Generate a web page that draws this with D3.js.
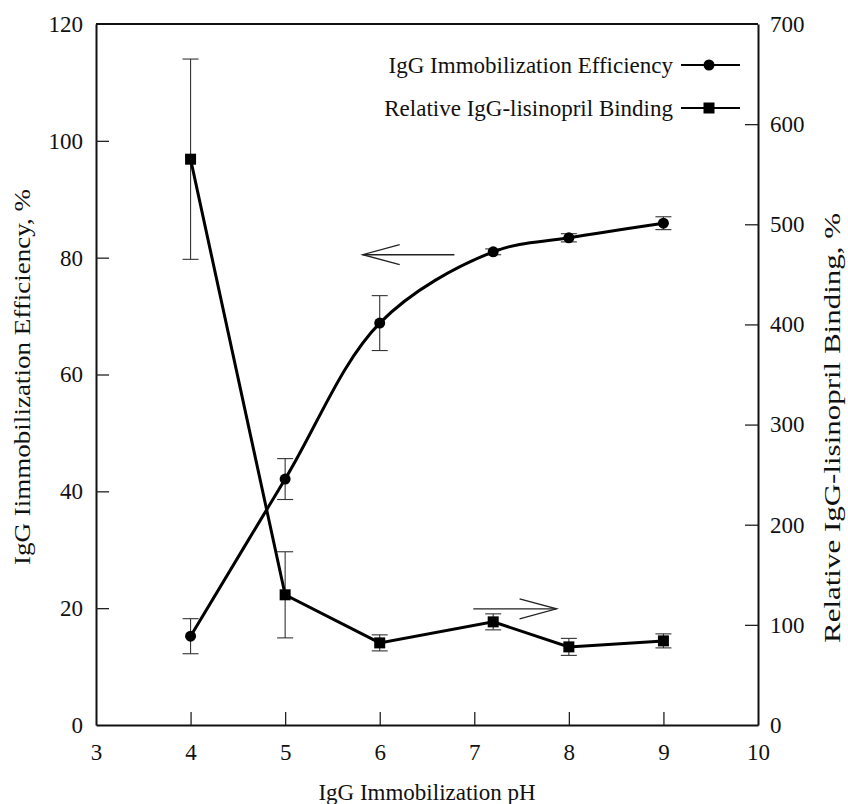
<!DOCTYPE html>
<html>
<head>
<meta charset="utf-8">
<script src="https://cdn.jsdelivr.net/npm/d3@7"></script>
<style>
  body { margin: 0; background: #fff; }
  svg text { font-family: "Liberation Serif", "Times New Roman", serif; fill: #111; }
</style>
</head>
<body>
<svg id="chart" width="848" height="804"></svg>
<script>
// pH values
const ph = [4, 5, 6, 7.2, 8, 9];
// IgG immobilization efficiency (%), left axis
const efficiency = [15.2, 42.1, 68.8, 81.0, 83.4, 85.9];
const efficiencyErr = [3.0, 3.5, 4.7, 0.5, 0.7, 1.1];
// relative IgG-lisinopril binding (%), right axis
const binding = [565, 130, 82, 103, 78, 84];
const bindingErr = [100, 43, 8, 8, 8.5, 7];

const xTicks = [3, 4, 5, 6, 7, 8, 9, 10];
const leftTicks = [0, 20, 40, 60, 80, 100, 120];
const rightTicks = [0, 100, 200, 300, 400, 500, 600, 700];

// annotation arrows, in data coordinates
const leftArrow = { from: [6.79, 80.5], to: [5.82, 80.5] };  // points to left axis
const rightArrow = { from: [6.99, 116], to: [7.87, 116] };   // points to right axis

const svg = d3.select('#chart');
const margin = { top: 24, right: 90, bottom: 79, left: 96 };
const width = 848 - margin.left - margin.right;
const height = 804 - margin.top - margin.bottom;

const g = svg.append('g').attr('transform', `translate(${margin.left},${margin.top})`);

const x = d3.scaleLinear().domain([3, 10]).range([0, width]);
const yL = d3.scaleLinear().domain([0, 120]).range([height, 0]);
const yR = d3.scaleLinear().domain([0, 700]).range([height, 0]);

// axes, ticks pointing inward
const xAxis = g.append('g').attr('transform', `translate(0,${height})`)
  .call(d3.axisBottom(x).tickValues(xTicks).tickFormat(d3.format('d'))
    .tickSizeInner(-13).tickSizeOuter(0).tickPadding(19));
const lAxis = g.append('g')
  .call(d3.axisLeft(yL).tickValues(leftTicks).tickSizeInner(-13).tickSizeOuter(0).tickPadding(13));
const rAxis = g.append('g').attr('transform', `translate(${width},0)`)
  .call(d3.axisRight(yR).tickValues(rightTicks).tickSizeInner(-13).tickSizeOuter(0).tickPadding(12));

[xAxis, lAxis, rAxis].forEach(a => {
  a.attr('font-family', null);
  a.select('.domain').attr('stroke', '#111').attr('stroke-width', 2);
  a.selectAll('.tick line').attr('stroke', '#222').attr('stroke-width', 1.3);
  a.selectAll('.tick text').style('font-size', '23px').attr('fill', '#111');
});
// no tick marks on the frame corners
xAxis.selectAll('.tick').filter(d => d === 3 || d === 10).select('line').remove();
lAxis.selectAll('.tick').filter(d => d === 0 || d === 120).select('line').remove();
rAxis.selectAll('.tick').filter(d => d === 0 || d === 700).select('line').remove();

// top frame line
g.append('line').attr('x1', 0).attr('x2', width).attr('y1', 0).attr('y2', 0)
  .attr('stroke', '#111').attr('stroke-width', 2);

// error bars
function errorBars(ys, errs, yScale) {
  const eb = g.append('g')
    .selectAll('g').data(ph.map((p, i) => ({ p, v: ys[i], e: errs[i] })))
    .enter().append('g').attr('stroke', '#333').attr('stroke-width', 1.1);
  eb.append('line')
    .attr('x1', d => x(d.p)).attr('x2', d => x(d.p))
    .attr('y1', d => yScale(d.v + d.e)).attr('y2', d => yScale(d.v - d.e));
  [1, -1].forEach(s => {
    eb.append('line')
      .attr('x1', d => x(d.p) - 8).attr('x2', d => x(d.p) + 8)
      .attr('y1', d => yScale(d.v + s * d.e)).attr('y2', d => yScale(d.v + s * d.e));
  });
}
errorBars(efficiency, efficiencyErr, yL);
errorBars(binding, bindingErr, yR);

// lines
const effLine = d3.line().x((d, i) => x(ph[i])).y(d => yL(d)).curve(d3.curveCatmullRom.alpha(0.5));
const bindLine = d3.line().x((d, i) => x(ph[i])).y(d => yR(d));

g.append('path').datum(efficiency).attr('d', effLine)
  .attr('fill', 'none').attr('stroke', '#000').attr('stroke-width', 3);
g.append('path').datum(binding).attr('d', bindLine)
  .attr('fill', 'none').attr('stroke', '#000').attr('stroke-width', 3);

// markers
g.append('g').selectAll('circle').data(efficiency).enter().append('circle')
  .attr('cx', (d, i) => x(ph[i])).attr('cy', d => yL(d)).attr('r', 5.5).attr('fill', '#000');
g.append('g').selectAll('rect').data(binding).enter().append('rect')
  .attr('x', (d, i) => x(ph[i]) - 5.5).attr('y', d => yR(d) - 5.5)
  .attr('width', 11).attr('height', 11).attr('fill', '#000');

// arrows
function arrow(a, yScale) {
  const x1 = x(a.from[0]), y1 = yScale(a.from[1]);
  const x2 = x(a.to[0]), y2 = yScale(a.to[1]);
  const dir = x2 > x1 ? -1 : 1;
  const grp = g.append('g').attr('stroke', '#222').attr('stroke-width', 1.3).attr('fill', 'none');
  grp.append('line').attr('x1', x1).attr('y1', y1).attr('x2', x2).attr('y2', y2);
  grp.append('path').attr('d', `M${x2 + dir * 37},${y2 - 10}L${x2},${y2}L${x2 + dir * 37},${y2 + 10}`);
}
arrow(leftArrow, yL);
arrow(rightArrow, yR);

// legend
const legend = [
  { label: 'IgG Immobilization Efficiency', shape: 'circle', y: 65 },
  { label: 'Relative IgG-lisinopril Binding', shape: 'rect', y: 108 }
];
legend.forEach(l => {
  svg.append('text').attr('x', 673).attr('y', l.y + 8).attr('text-anchor', 'end')
    .style('font-size', '23px').text(l.label);
  svg.append('line').attr('x1', 681).attr('x2', 740).attr('y1', l.y).attr('y2', l.y)
    .attr('stroke', '#000').attr('stroke-width', 2.2);
  if (l.shape === 'circle') {
    svg.append('circle').attr('cx', 709).attr('cy', l.y).attr('r', 5.5).attr('fill', '#000');
  } else {
    svg.append('rect').attr('x', 709 - 5.5).attr('y', l.y - 5.5).attr('width', 11).attr('height', 11).attr('fill', '#000');
  }
});

// axis titles
svg.append('text').attr('x', 427).attr('y', 800)
  .attr('text-anchor', 'middle').style('font-size', '23px').text('IgG Immobilization pH');
svg.append('text').attr('transform', 'translate(30,377) rotate(-90)')
  .attr('text-anchor', 'middle').style('font-size', '23px')
  .attr('textLength', 376).attr('lengthAdjust', 'spacingAndGlyphs')
  .text('IgG Iimmobilization Efficiency, %');
svg.append('text').attr('transform', 'translate(840,428) rotate(-90)')
  .attr('text-anchor', 'middle').style('font-size', '23px')
  .attr('textLength', 430).attr('lengthAdjust', 'spacingAndGlyphs')
  .text('Relative IgG-lisinopril Binding, %');
</script>
</body>
</html>
